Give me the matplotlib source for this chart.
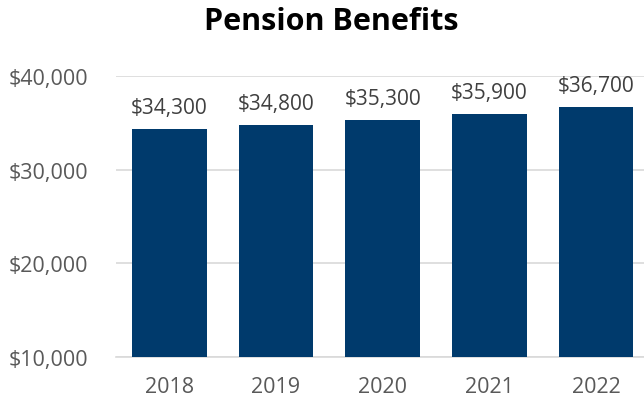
import matplotlib
matplotlib.use("Agg")
import matplotlib.pyplot as plt

years = ["2018", "2019", "2020", "2021", "2022"]
values = [34300, 34800, 35300, 35900, 36700]
yticks = [10000, 20000, 30000, 40000]

plt.rcParams['font.family'] = ['Open Sans', 'DejaVu Sans']

fig = plt.figure(figsize=(6.44, 4.02), dpi=100)
ax = fig.add_axes([116/644, 44/402, 528/644, 281/402])

x = list(range(len(years)))
ax.bar(x, values, width=0.7, color="#003A6C", zorder=3)
ax.set_xlim(-0.5, 4.45)
ax.set_ylim(10000, 40000)
ax.set_yticks(yticks)
ax.set_yticklabels([f"${v:,.0f}" for v in yticks])
ax.set_xticks(x)
ax.set_xticklabels(years)
ax.grid(axis='y', color="#D9D9D9", linewidth=1.2, zorder=0)
for s in ["top", "right", "left"]:
    ax.spines[s].set_visible(False)
ax.spines["bottom"].set_color("#D9D9D9")
ax.spines["bottom"].set_linewidth(1.2)
ax.tick_params(length=0, colors="#595959", labelsize=15.5)
ax.tick_params(axis='y', pad=20)
ax.tick_params(axis='x', pad=14, labelsize=15.5)
for xi, v in zip(x, values):
    ax.annotate(f"${v:,.0f}", (xi, v), xytext=(0, 8), textcoords="offset points",
                ha="center", va="bottom", fontsize=15, color="#404040")

fig.text(0.515, 0.945, "Pension Benefits", ha="center", va="center",
         fontsize=22, fontweight="bold", color="black")
fig.savefig("out.png", dpi=100)
